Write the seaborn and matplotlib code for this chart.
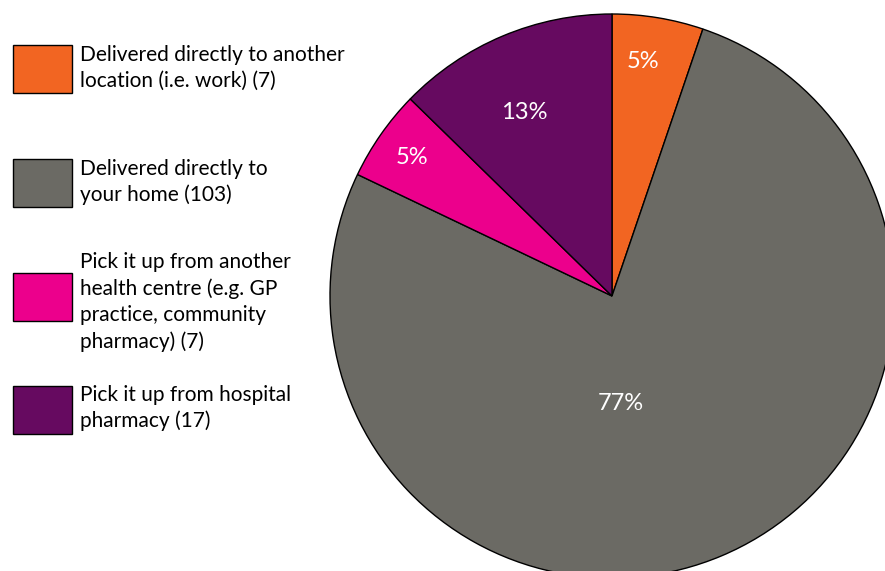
import matplotlib
matplotlib.use("Agg")
import matplotlib.pyplot as plt
import seaborn as sns
from matplotlib.patches import Rectangle

# Survey responses: how people prefer to receive their medicine
categories = [
    "Delivered directly to another\nlocation (i.e. work) (7)",
    "Delivered directly to\nyour home (103)",
    "Pick it up from another\nhealth centre (e.g. GP\npractice, community\npharmacy) (7)",
    "Pick it up from hospital\npharmacy (17)",
]
counts = [7, 103, 7, 17]
colors = ["#F26522", "#6B6A64", "#EC008C", "#660A60"]

sns.set_theme(style="white")
plt.rcParams["font.family"] = ["Lato", "DejaVu Sans"]

W, H = 885, 571
fig = plt.figure(figsize=(W / 100, H / 100), dpi=100)
ax = fig.add_axes([0, 0, 1, 1])

# pie placed with its centre at pixel (612, 296) and radius 282 px
cx, cy, R = 612, 296, 282

wedges, _, autotexts = ax.pie(
    counts,
    colors=colors,
    startangle=90,
    counterclock=False,
    radius=1.0,
    autopct="%.0f%%",
    wedgeprops=dict(edgecolor="black", linewidth=1.0),
    textprops=dict(color="white", fontsize=17),
)
ax.set_xlim((0 - cx) / R, (W - cx) / R)
ax.set_ylim((cy - H) / R, cy / R)
ax.set_aspect("auto")
ax.set_axis_off()

# label placement inside each wedge (pie units)
label_pos = [(0.11, 0.83), (0.03, -0.38), (-0.71, 0.49), (-0.31, 0.65)]
for t, (x, y) in zip(autotexts, label_pos):
    t.set_position((x, y))
    t.set_ha("center")
    t.set_va("center")

# legend: swatches and wrapped labels down the left side
patch_tops = [45, 159, 273, 386]
text_centers = [68, 182, 302, 408]
px0, pw, ph = 13, 59, 48
for col, top, tc, lab in zip(colors, patch_tops, text_centers, categories):
    fig.patches.append(Rectangle(
        (px0 / W, 1 - (top + ph) / H), pw / W, ph / H,
        transform=fig.transFigure, facecolor=col, edgecolor="black",
        linewidth=1.0))
    fig.text(80 / W, 1 - tc / H, lab, ha="left", va="center",
             fontsize=15, color="black", linespacing=1.37)

fig.savefig("out.png", dpi=100)
